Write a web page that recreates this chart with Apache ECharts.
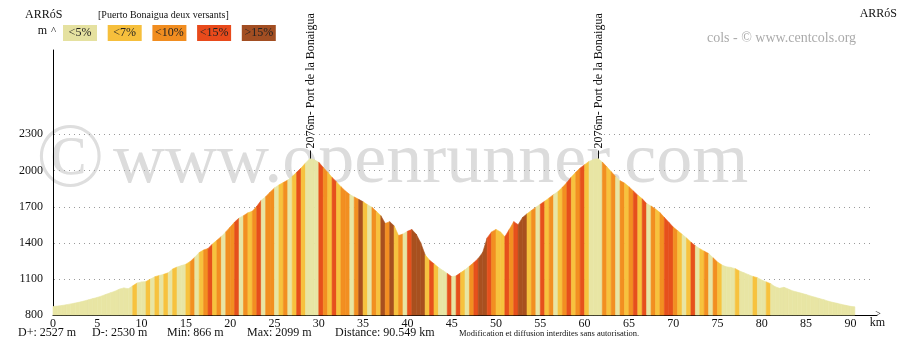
<!DOCTYPE html>
<html><head><meta charset="utf-8">
<script src="https://cdn.jsdelivr.net/npm/echarts@6/dist/echarts.min.js"></script>
<style>html,body{margin:0;padding:0;background:#fff}#c{width:915px;height:351px}</style>
</head><body><div id="c"></div>
<script>
// ---- data ----
const elevStepKm = 0.5;
const elevation = [
  870, 874, 879, 885, 892, 899, 907, 916, 926, 936, 946, 958, 972, 985, 998,1015,1025,1018,1042,1066,
 1075,1078,1098,1118,1128,1138,1150,1182,1198,1210,1222,1245,1280,1318,1340,1352,1390,1420,1452,1490,
 1530,1572,1605,1625,1648,1662,1702,1752,1782,1820,1855,1880,1900,1920,1950,1985,2020,2062,2099,2088,
 2068,2025,1985,1942,1905,1865,1830,1800,1780,1760,1740,1715,1695,1660,1625,1560,1575,1540,1460,1472,
 1495,1510,1470,1400,1300,1255,1225,1195,1170,1145,1118,1125,1150,1175,1205,1235,1270,1320,1440,1490,
 1510,1490,1450,1510,1575,1550,1610,1640,1668,1695,1720,1745,1772,1800,1825,1860,1900,1945,1985,2020,
 2048,2075,2090,2099,2070,2030,1990,1950,1915,1895,1865,1830,1795,1765,1725,1705,1680,1650,1610,1570,
 1530,1500,1470,1440,1405,1375,1350,1330,1310,1275,1240,1215,1200,1195,1185,1165,1150,1135,1120,1110,
 1090,1075,1060,1035,1022,1030,1015,1000, 990, 980, 970, 958, 948, 937, 927, 915, 905, 897, 888, 880,
  872, 868
];
// slope class of each 0.5 km segment: 0 <5%, 1 <7%, 2 <10%, 3 <15%, 4 >15%
const slopeClass = [
 0,0,0,0,0,0,0,0,0,0,0,0,0,0,0,0,0,0,1,0,
 0,1,0,1,0,1,0,1,0,0,1,2,0,1,2,3,1,2,0,2,
 2,3,0,2,1,2,3,0,2,2,0,1,2,0,1,3,1,0,0,0,
 3,2,1,3,1,2,2,0,2,4,1,0,2,1,4,2,4,1,2,0,
 3,4,4,4,1,3,1,0,0,3,0,3,1,0,2,3,4,4,3,2,
 1,1,3,2,3,4,4,1,2,0,3,1,2,0,1,2,3,1,2,3,
 1,0,0,0,2,1,2,0,2,1,2,3,1,3,0,2,1,2,3,3,
 2,1,0,1,3,0,1,2,0,2,1,0,0,0,1,0,0,0,1,0,
 0,1,0,0,0,0,0,0,0,0,0,0,0,0,0,0,0,0,0,0,
 0
];
const classColors = ['#E8E5A4', '#F7C23E', '#F28F21', '#E6501C', '#A8501F'];
const legendColors = ['#E5E1A0', '#F6BF3C', '#F18D20', '#E84A1B', '#A24E22'];
const legendLabels = ['<5%', '<7%', '<10%', '<15%', '>15%'];
const xTicks = [0,5,10,15,20,25,30,35,40,45,50,55,60,65,70,75,80,85,90];
const yTicks = [800, 1100, 1400, 1700, 2000, 2300];
const passKm = [29.0, 61.5];
const passEle = [2099, 2099];
const passNames = ['2076m- Port de la Bonaigua', '2076m- Port de la Bonaigua'];
const stats = ['D+: 2527 m', 'D-: 2530 m', 'Min: 866 m', 'Max: 2099 m', 'Distance: 90.549 km'];
const startName = 'ARRóS', endName = 'ARRóS';
const profileTitle = '[Puerto Bonaigua deux versants]';

// ---- build ----
const FONT = '"Liberation Serif", "DejaVu Serif", serif';
const yMin = yTicks[0];
const segments = slopeClass.map((c, i) => [i * elevStepKm, (i + 1) * elevStepKm, elevation[i], elevation[i + 1], c]);

const chart = echarts.init(document.getElementById('c'), null, {renderer: 'canvas'});

const g = [];
// watermark
g.push({type: 'text', z: 0, style: {text: '©', x: 36, y: 162, font: '90px ' + FONT, fill: '#dedede', verticalAlign: 'middle'}});
g.push({type: 'text', z: 0, style: {text: 'www.openrunner.com', x: 113, y: 163, font: '72px ' + FONT, fill: '#dcdcdc', verticalAlign: 'middle'}});
g.push({type: 'text', z: 10, style: {text: startName, x: 25, y: 15, font: '12px ' + FONT, fill: '#111', verticalAlign: 'middle'}});
g.push({type: 'text', z: 10, style: {text: endName, x: 897, y: 14, font: '12px ' + FONT, fill: '#111', align: 'right', verticalAlign: 'middle'}});
g.push({type: 'text', z: 10, style: {text: profileTitle, x: 98, y: 15, font: '10px ' + FONT, fill: '#111', verticalAlign: 'middle'}});
g.push({type: 'text', z: 10, style: {text: 'm', x: 42.5, y: 31, font: '12px ' + FONT, fill: '#111', align: 'center', verticalAlign: 'middle'}});
g.push({type: 'text', z: 10, style: {text: '^', x: 53.5, y: 31, font: '11px ' + FONT, fill: '#111', align: 'center', verticalAlign: 'middle'}});
legendLabels.forEach((t, i) => {
  const x = 63 + i * 44.7;
  g.push({type: 'rect', z: 10, shape: {x: x, y: 25, width: 34, height: 16}, style: {fill: legendColors[i]}});
  g.push({type: 'text', z: 11, style: {text: t, x: x + 17, y: 33, font: '12px ' + FONT, fill: '#222', align: 'center', verticalAlign: 'middle'}});
});
g.push({type: 'text', z: 10, style: {text: 'cols - © www.centcols.org', x: 707, y: 38, font: '14px ' + FONT, fill: '#ababab', verticalAlign: 'middle'}});
g.push({type: 'text', z: 10, style: {text: '>', x: 878, y: 314.5, font: '10px ' + FONT, fill: '#111', align: 'center', verticalAlign: 'middle'}});
g.push({type: 'text', z: 10, style: {text: 'km', x: 877.5, y: 323, font: '12px ' + FONT, fill: '#111', align: 'center', verticalAlign: 'middle'}});
const statX = [18, 92, 167, 247, 335];
stats.forEach((t, i) => g.push({type: 'text', z: 10, style: {text: t, x: statX[i], y: 332.5, font: '12px ' + FONT, fill: '#111', verticalAlign: 'middle'}}));
g.push({type: 'text', z: 10, style: {text: 'Modification et diffusion interdites sans autorisation.', x: 459, y: 334, font: '8.5px ' + FONT, fill: '#111', verticalAlign: 'middle'}});

chart.setOption({
  animation: false,
  backgroundColor: '#fff',
  grid: {left: 53, right: 38, top: 50, bottom: 36, containLabel: false},
  xAxis: {
    type: 'value', min: 0, max: 93, interval: 5,
    axisLine: {show: true, lineStyle: {color: '#000', width: 1}},
    axisTick: {show: false}, splitLine: {show: false},
    axisLabel: {color: '#111', fontFamily: FONT, fontSize: 12, margin: 3,
      formatter: v => (xTicks.indexOf(v) >= 0 ? String(v) : '')}
  },
  yAxis: {
    type: 'value', min: yMin, max: 3000, interval: 300,
    axisLine: {show: true, lineStyle: {color: '#000', width: 1}},
    axisTick: {show: false}, splitLine: {show: false},
    axisLabel: {color: '#111', fontFamily: FONT, fontSize: 12, margin: 10, padding: [0, 0, 6, 0],
      formatter: v => (yTicks.indexOf(v) >= 0 ? String(v) : '')}
  },
  graphic: g,
  series: [
    {
      type: 'custom', z: 1, silent: true,
      encode: {y: 0},
      data: yTicks.slice(1).map(v => [v]),
      renderItem: (params, api) => {
        const cs = params.coordSys;
        const y = Math.round(api.coord([0, api.value(0)])[1]) + 0.5;
        return {type: 'line', shape: {x1: cs.x + 1, y1: y, x2: cs.x + cs.width - 7, y2: y},
          style: {stroke: '#9a9a9a', lineWidth: 1, lineDash: [1, 4]}};
      }
    },
    {
      type: 'custom', z: 3, silent: true,
      encode: {x: [0, 1], y: [2, 3]},
      data: segments,
      renderItem: (params, api) => {
        const x0 = api.value(0), x1 = api.value(1), e0 = api.value(2), e1 = api.value(3), c = api.value(4);
        const pts = [api.coord([x0, yMin]), api.coord([x0, e0]), api.coord([x1, e1]), api.coord([x1, yMin])];
        return {type: 'polygon', shape: {points: pts},
          style: {fill: classColors[c], stroke: classColors[c], lineWidth: 0.6}};
      }
    }
  ]
});

// pass labels positioned through the chart's own coordinate conversion
const extra = [];
passKm.forEach((km, i) => {
  const p = chart.convertToPixel({gridIndex: 0}, [km, passEle[i]]);
  const x = Math.round(p[0]) + 0.5;
  extra.push({type: 'line', z: 10, shape: {x1: x, y1: p[1] - 8, x2: x, y2: p[1]}, style: {stroke: '#111', lineWidth: 1}});
  extra.push({type: 'text', z: 10, x: x, y: p[1] - 10, rotation: Math.PI / 2,
    style: {text: passNames[i], x: 0, y: 0, font: '12px ' + FONT, fill: '#111', align: 'left', verticalAlign: 'middle'}});
});
chart.setOption({graphic: g.concat(extra)});
</script>
</body></html>
